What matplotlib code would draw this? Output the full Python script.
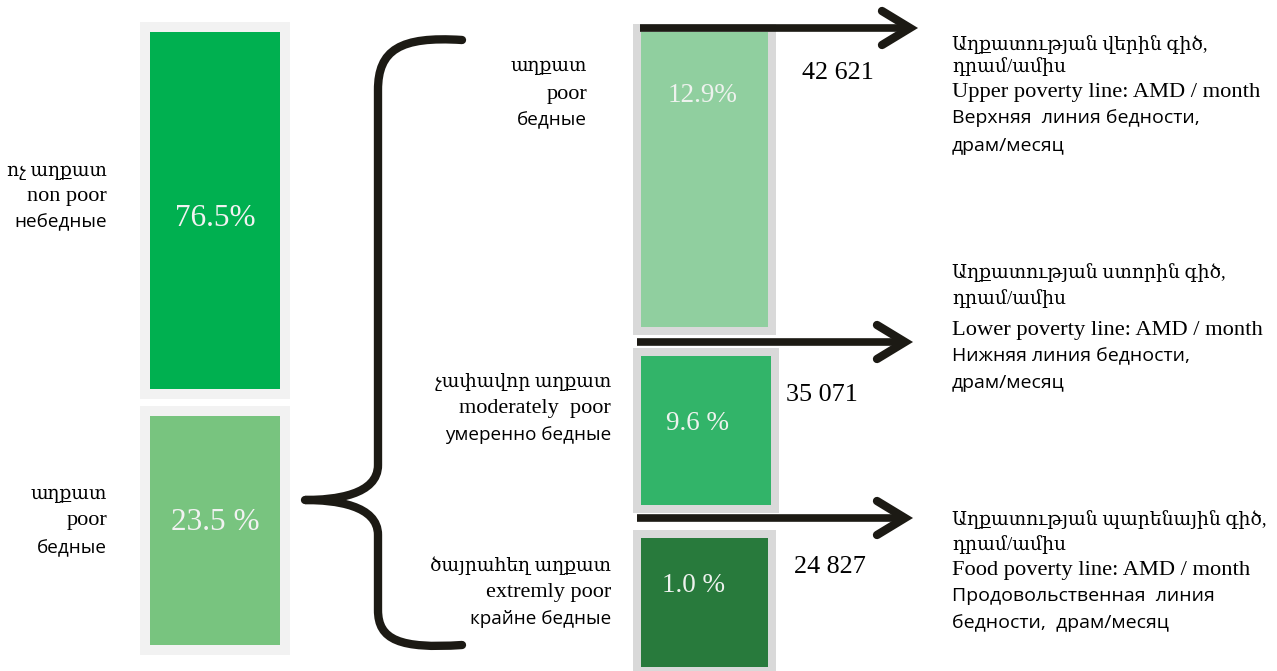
import matplotlib
matplotlib.use("Agg")
import matplotlib.pyplot as plt
from matplotlib.patches import Rectangle, PathPatch
from matplotlib.path import Path

# data
total_labels = ["76.5%", "23.5 %"]
total_groups = [["ոչ աղքատ", "non poor", "небедные"],
                ["աղքատ", "poor", "бедные"]]
poor_labels = ["12.9%", "9.6 %", "1.0 %"]
poor_groups = [["աղքատ", "poor", "бедные"],
               ["չափավոր աղքատ", "moderately  poor", "умеренно бедные"],
               ["ծայրահեղ աղքատ", "extremly poor", "крайне бедные"]]
line_values = ["42 621", "35 071", "24 827"]
line_hy = ["Աղքատության վերին գիծ,", "Աղքատության ստորին գիծ,", "Աղքատության պարենային գիծ,"]
line_en = ["Upper poverty line: AMD / month", "Lower poverty line: AMD / month",
           "Food poverty line: AMD / month"]
line_ru = [["Верхняя  линия бедности,", "драм/месяц"],
           ["Нижняя линия бедности,", "драм/месяц"],
           ["Продовольственная  линия", "бедности,  драм/месяц"]]

SERIF = ["Liberation Serif", "DejaVu Serif"]
SANS = ["Open Sans", "DejaVu Sans"]
INK = "#1c1a14"

fig = plt.figure(figsize=(12.77, 6.71), dpi=100)
ax = fig.add_axes([0, 0, 1, 1])
ax.set_xlim(0, 1277)
ax.set_ylim(671, 0)
ax.axis("off")


def box(x0, y0, x1, y1, pad, border, fill):
    ax.add_patch(Rectangle((x0 - pad, y0 - pad), x1 - x0 + 2 * pad, y1 - y0 + 2 * pad,
                           facecolor=border, edgecolor="none"))
    ax.add_patch(Rectangle((x0, y0), x1 - x0, y1 - y0, facecolor=fill, edgecolor="none"))


def stack(x, ys, lines, ha="right", sizes=(13.4, 16, 13.6)):
    fams = [SERIF, SERIF, SANS]
    for y, t, f, s in zip(ys, lines, fams, sizes):
        ax.text(x, y, t, ha=ha, va="center", family=f, fontsize=s, color="black")


# left boxes
left_boxes = [(150, 32, 280, 389, "#00b050"), (150, 416, 280, 645, "#78c47f")]
for (x0, y0, x1, y1, c), lab in zip(left_boxes, total_labels):
    box(x0, y0, x1, y1, 10, "#f2f2f2", c)
    ax.text((x0 + x1) / 2, 218 if y0 < 100 else 523, lab, ha="center", va="center",
            family=SERIF, fontsize=22.5, color="#f2f2f2")

stack(107, [172, 197, 222], total_groups[0])
stack(107, [495, 521, 548], total_groups[1])

# right boxes
right_boxes = [(641, 32, 768, 327, "#90cf9f"), (641, 356, 771, 505, "#32b469"),
               (641, 538, 768, 667, "#287a3c")]
pct_pos = [(703, 95), (697, 423), (693, 585)]
for (x0, y0, x1, y1, c), lab, (px, py) in zip(right_boxes, poor_labels, pct_pos):
    box(x0, y0, x1, y1, 8, "#d9d9d9", c)
    ax.text(px, py, lab, ha="center", va="center", family=SERIF, fontsize=19.5, color="#eef2ee")

stack(587, [67, 94, 120], poor_groups[0])
stack(611, [382, 408, 435], poor_groups[1])
stack(611, [566, 592, 619], poor_groups[2])

# arrows
arrows = [(640, 910, 28), (637, 905, 342), (637, 905, 518)]
for x0, x1, y in arrows:
    ax.plot([x0, x1 - 3], [y, y], color=INK, lw=5.5, solid_capstyle="butt")
    ax.plot([x1 - 28, x1, x1 - 28], [y - 17, y, y + 17], color=INK, lw=6,
            solid_capstyle="round", solid_joinstyle="miter")

# values and line descriptions
val_pos = [(838, 73), (822, 395), (830, 567)]
for (vx, vy), v in zip(val_pos, line_values):
    ax.text(vx, vy, v, ha="center", va="center", family=SERIF, fontsize=18.8, color="black")

blocks = [[45, 67, 92, 118, 146], [273, 299, 330, 356, 383], [520, 545, 570, 596, 623]]
for ys, hy, en, ru in zip(blocks, line_hy, line_en, line_ru):
    ax.text(952, ys[0], hy, ha="left", va="center", family=SERIF, fontsize=13.5)
    ax.text(952, ys[1], "դրամ/ամիս", ha="left", va="center", family=SERIF, fontsize=13.5)
    ax.text(952, ys[2], en, ha="left", va="center", family=SERIF, fontsize=16.2)
    ax.text(952, ys[3], ru[0], ha="left", va="center", family=SANS, fontsize=14)
    ax.text(952, ys[4], ru[1], ha="left", va="center", family=SANS, fontsize=14)

# brace
verts = [(462, 40), (400, 36), (378, 50), (378, 90),
         (378, 465),
         (378, 495), (335, 500), (305, 500),
         (335, 500), (378, 505), (378, 535),
         (378, 610),
         (378, 640), (400, 649), (462, 645)]
codes = [Path.MOVETO, Path.CURVE4, Path.CURVE4, Path.CURVE4,
         Path.LINETO,
         Path.CURVE4, Path.CURVE4, Path.CURVE4,
         Path.CURVE4, Path.CURVE4, Path.CURVE4,
         Path.LINETO,
         Path.CURVE4, Path.CURVE4, Path.CURVE4]
ax.add_patch(PathPatch(Path(verts, codes), facecolor="none", edgecolor=INK, lw=6,
                       capstyle="round", joinstyle="round"))

fig.savefig("out.png", dpi=100)
